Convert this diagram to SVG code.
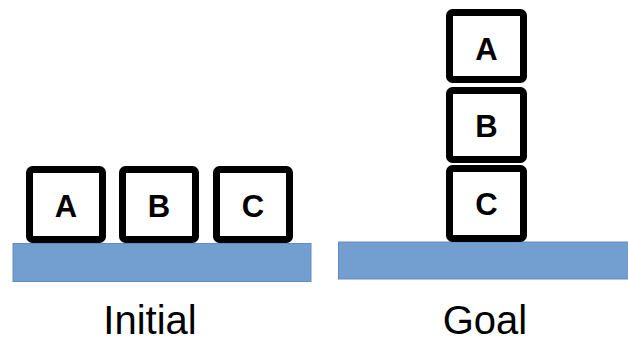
<svg xmlns="http://www.w3.org/2000/svg" width="628" height="341" viewBox="0 0 628 341">
<style>
.table{fill:#729fcf;stroke:#5f8dc2;stroke-width:1}
.block{fill:#fff;stroke:#000;stroke-width:7;stroke-linejoin:round}
.bl{font-family:"Liberation Sans",Arial,sans-serif;font-weight:bold;font-size:31px;text-anchor:middle;fill:#000}
.cap{font-family:"Liberation Sans",Arial,sans-serif;font-size:40px;text-anchor:middle;fill:#000}
</style>
<rect width="628" height="341" fill="#fff"/>
<g id="initial-table"><rect class="table" x="13" y="243.5" width="298" height="38"/></g>
<g id="init-A"><rect class="block" x="29.5" y="169.5" width="73" height="70" rx="3"/><text class="bl" x="66" y="216.5">A</text></g>
<g id="init-B"><rect class="block" x="122.5" y="169.5" width="73" height="70" rx="3"/><text class="bl" x="159" y="216.5">B</text></g>
<g id="init-C"><rect class="block" x="216.5" y="169.5" width="73" height="70" rx="3"/><text class="bl" x="253" y="216.5">C</text></g>
<g id="goal-table"><rect class="table" x="338.5" y="242" width="292" height="37"/></g>
<g id="goal-A"><rect class="block" x="449.5" y="12.5" width="74" height="67" rx="3"/><text class="bl" x="486.5" y="59.5">A</text></g>
<g id="goal-B"><rect class="block" x="449.5" y="90.5" width="74" height="69" rx="3"/><text class="bl" x="486.5" y="136.5">B</text></g>
<g id="goal-C"><rect class="block" x="449.5" y="168.5" width="74" height="70" rx="3"/><text class="bl" x="486.5" y="215">C</text></g>
<text class="cap" x="150" y="334">Initial</text>
<text class="cap" x="485" y="334">Goal</text>
<g id="connectors"/>
</svg>
